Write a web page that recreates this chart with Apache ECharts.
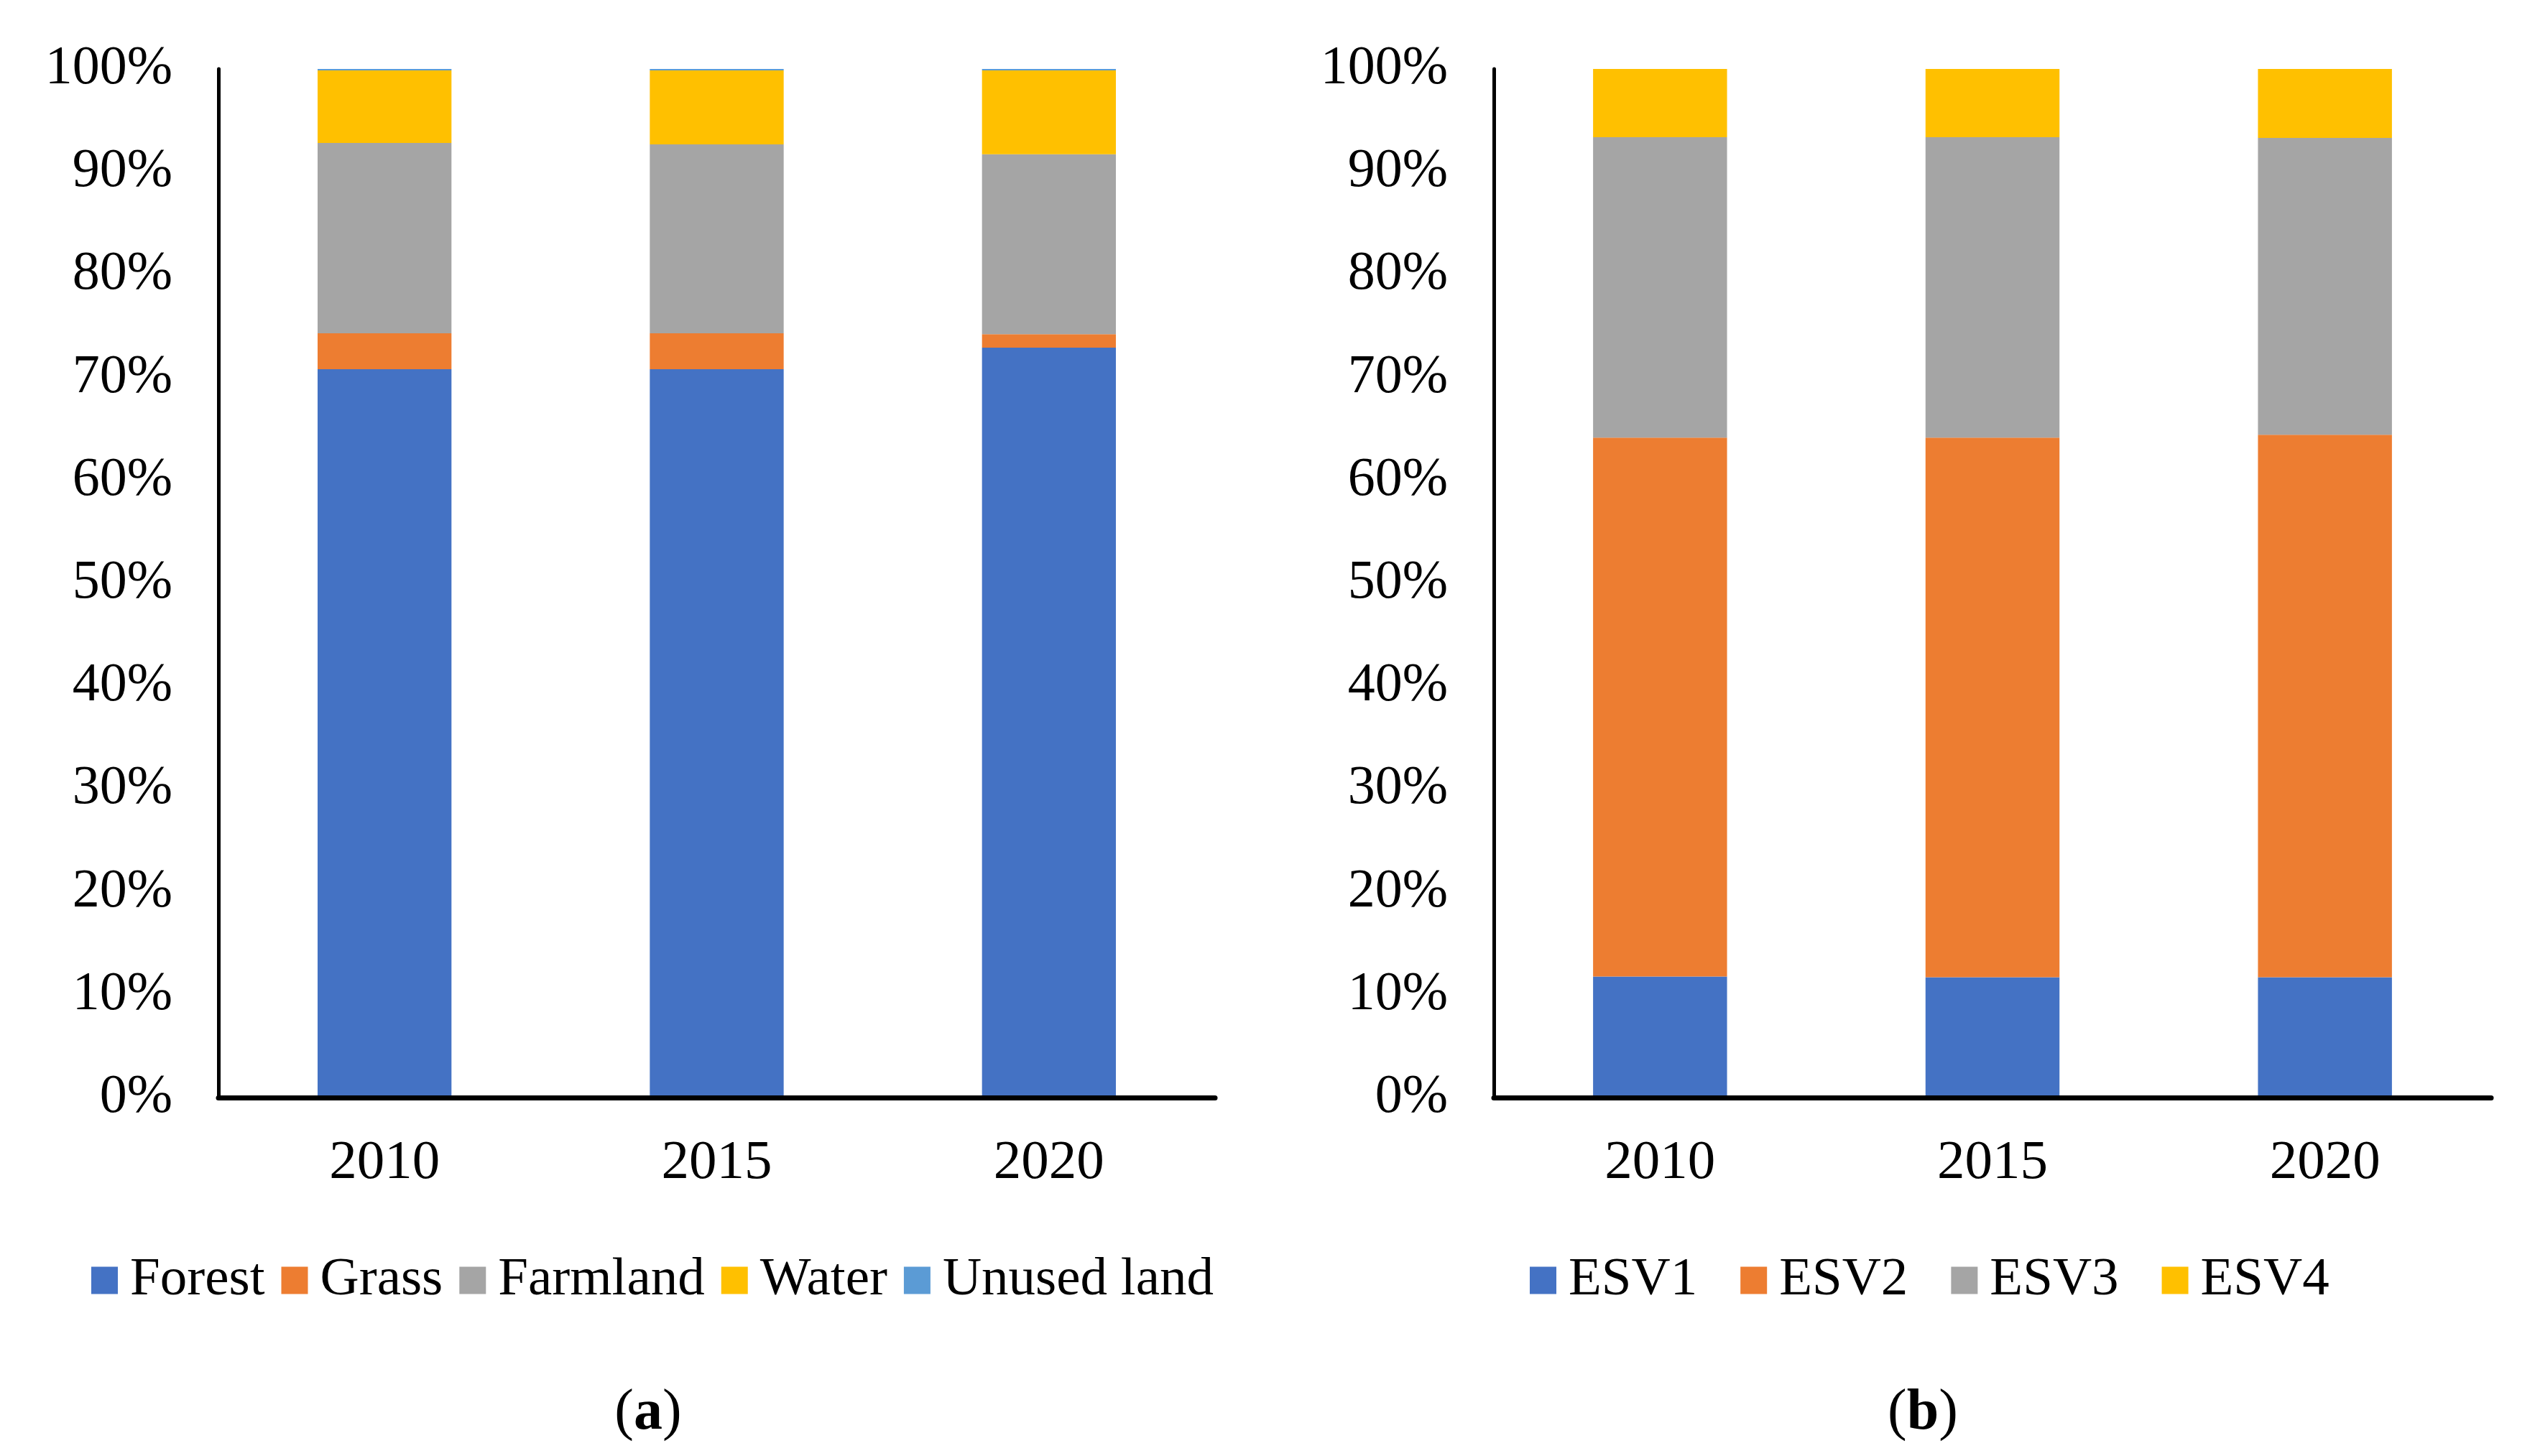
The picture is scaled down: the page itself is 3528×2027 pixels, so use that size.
<!DOCTYPE html>
<html>
<head>
<meta charset="utf-8">
<script src="https://cdn.jsdelivr.net/npm/echarts@6/dist/echarts.min.js"></script>
<style>
html,body{margin:0;padding:0;background:#fff;}
#c{width:3528px;height:2027px;}
</style>
</head>
<body>
<div id="c"></div>
<script>
// ---- data ----
const years = ['2010', '2015', '2020'];
const yTicks = [0, 10, 20, 30, 40, 50, 60, 70, 80, 90, 100];

// panel (a): land use shares (%)
const landNames = ['Forest', 'Grass', 'Farmland', 'Water', 'Unused land'];
const forest   = [70.81, 70.81, 72.91];
const grass    = [3.49, 3.49, 1.30];
const farmland = [18.50, 18.36, 17.49];
const water    = [7.06, 7.20, 8.16];
const unused   = [0.14, 0.14, 0.14];

// panel (b): ESV shares (%)
const esvNames = ['ESV1', 'ESV2', 'ESV3', 'ESV4'];
const esv1 = [11.76, 11.69, 11.69];
const esv2 = [52.39, 52.46, 52.74];
const esv3 = [29.21, 29.21, 28.86];
const esv4 = [6.64, 6.64, 6.71];

const landColors = ['#4472C4', '#ED7D31', '#A5A5A5', '#FFC000', '#5B9BD5'];
const esvColors = ['#4472C4', '#ED7D31', '#A5A5A5', '#FFC000'];

// ---- chart ----
const FONT = '"Liberation Serif", "Times New Roman", serif';
const chart = echarts.init(document.getElementById('c'), null, {renderer: 'canvas'});

function xAxis(gi) {
  return {
    type: 'category', gridIndex: gi, data: years, z: 5,
    axisLine: {show: true, lineStyle: {color: '#000', width: 7}},
    axisTick: {show: false},
    axisLabel: {color: '#000', fontFamily: FONT, fontSize: 77, margin: 53}
  };
}
function yAxis(gi) {
  return {
    type: 'value', gridIndex: gi, min: yTicks[0], max: yTicks[yTicks.length - 1], interval: 10, z: 5,
    axisLine: {show: true, lineStyle: {color: '#000', width: 5}},
    axisTick: {show: false},
    splitLine: {show: false},
    axisLabel: {color: '#000', fontFamily: FONT, fontSize: 76, margin: 64, formatter: '{value}%'}
  };
}
function bar(name, data, gi, color) {
  return {
    name, type: 'bar', stack: 'g' + gi, xAxisIndex: gi, yAxisIndex: gi,
    data, barWidth: '40.3%', itemStyle: {color}, emphasis: {disabled: true}
  };
}

const landData = [forest, grass, farmland, water, unused];
const esvData = [esv1, esv2, esv3, esv4];

const legendText = {color: '#000', fontFamily: FONT, fontSize: 75, padding: [0, 0, 0, 12]};
const capRich = {
  n: {fontFamily: FONT, fontSize: 80, fill: '#000', lineHeight: 90},
  b: {fontFamily: FONT, fontSize: 80, fontWeight: 'bold', fill: '#000', lineHeight: 90}
};

chart.setOption({
  animation: false,
  backgroundColor: '#fff',
  grid: [
    {left: 304, right: 1837, top: 96, bottom: 499},
    {left: 2079, right: 61, top: 96, bottom: 499}
  ],
  xAxis: [xAxis(0), xAxis(1)],
  yAxis: [yAxis(0), yAxis(1)],
  legend: [
    {data: landNames, left: 122, top: 1740, icon: 'rect', itemWidth: 37, itemHeight: 38,
     itemGap: 23, textStyle: legendText, selectedMode: false},
    {data: esvNames, left: 2124, top: 1740, icon: 'rect', itemWidth: 37, itemHeight: 38,
     itemGap: 60, textStyle: legendText, selectedMode: false}
  ],
  graphic: [
    {type: 'text', x: 902, y: 1968, style: {
      text: '{n|(}{b|a}{n|)}', align: 'center', verticalAlign: 'middle', rich: capRich
    }},
    {type: 'text', x: 2676, y: 1968, style: {
      text: '{n|(}{b|b}{n|)}', align: 'center', verticalAlign: 'middle', rich: capRich
    }}
  ],
  series: [
    ...landNames.map((n, i) => bar(n, landData[i], 0, landColors[i])),
    ...esvNames.map((n, i) => bar(n, esvData[i], 1, esvColors[i]))
  ]
});
</script>
</body>
</html>
